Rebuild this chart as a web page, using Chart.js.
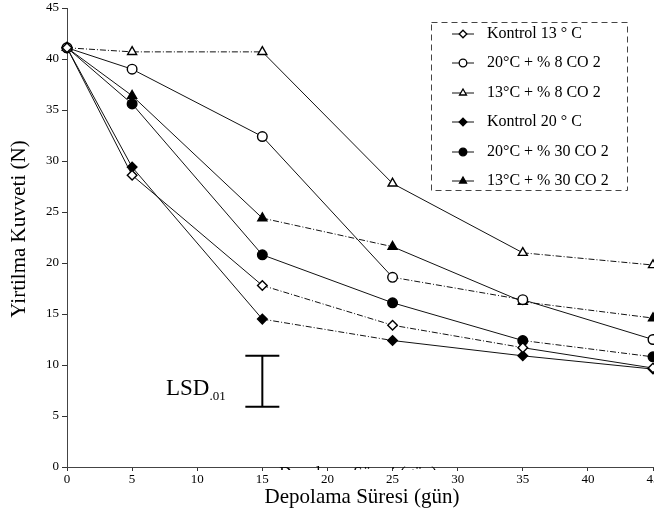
<!DOCTYPE html>
<html><head><meta charset="utf-8">
<script src="https://cdn.jsdelivr.net/npm/chart.js@4"></script>
<style>html,body{margin:0;padding:0;background:#fff}canvas{display:block}</style>
</head><body>
<canvas id="c" width="654" height="530"></canvas>
<script>
const days = [0, 5, 15, 25, 35, 45];
const seriesNames = ['Kontrol 13 ° C', '20°C + % 8 CO 2', '13°C + % 8 CO 2', 'Kontrol 20 ° C', '20°C + % 30 CO 2', '13°C + % 30 CO 2'];
const kontrol13 = [41.1, 28.6, 17.8, 13.9, 11.7, 9.7];
const c20co8 = [41.1, 39.0, 32.4, 18.6, 16.4, 12.5];
const c13co8 = [41.1, 40.7, 40.7, 27.8, 21.0, 19.8];
const kontrol20 = [41.1, 29.4, 14.5, 12.4, 10.9, 9.6];
const c20co30 = [41.1, 35.6, 20.8, 16.1, 12.4, 10.8];
const c13co30 = [41.1, 36.4, 24.4, 21.6, 16.2, 14.6];
const yTicks = [0, 5, 10, 15, 20, 25, 30, 35, 40, 45];
const xTicks = [0, 5, 10, 15, 20, 25, 30, 35, 40, 45];
const lsdX = 15, lsdLow = 5.9, lsdHigh = 10.9;

// styles (kept separate from data)
const markerStyles = ['rectRot', 'circle', 'triangle', 'rectRot', 'circle', 'triangle'];
const markerFilled = [false, false, false, true, true, true];
const segDash = [
  [0,0,1,1,0],
  [0,0,0,1,0],
  [1,1,0,0,1],
  [0,0,1,0,0],
  [0,0,0,0,1],
  [0,0,1,0,1]
];
const allSeries = [kontrol13, c20co8, c13co8, kontrol20, c20co30, c13co30];
const SERIF = "'Liberation Serif', 'DejaVu Serif', serif";
const DASHDOT = [6, 2, 1, 2];

const datasets = allSeries.map((vals, i) => ({
  label: seriesNames[i],
  data: days.map((d, j) => ({x: d, y: vals[j]})),
  borderColor: '#111',
  borderWidth: 1,
  pointStyle: markerStyles[i],
  pointRadius: markerStyles[i] === 'triangle' ? 5.2 : 4.8,
  pointBorderWidth: 1.4,
  pointBackgroundColor: markerFilled[i] ? '#000' : '#fff',
  pointBorderColor: '#000',
  segment: { borderDash: ctx => segDash[i][ctx.p0DataIndex] ? DASHDOT : [] },
  tension: 0,
  clip: false
}));

const overlay = {
  id: 'overlay',
  afterDatasetsDraw(chart) {
    const c = chart.ctx, xs = chart.scales.x, ys = chart.scales.y;
    c.save();
    // LSD bar
    const bx = xs.getPixelForValue(lsdX);
    const yt = ys.getPixelForValue(lsdHigh), yb = ys.getPixelForValue(lsdLow);
    c.strokeStyle = '#000'; c.lineWidth = 2;
    c.beginPath();
    c.moveTo(bx, yt); c.lineTo(bx, yb);
    c.moveTo(bx - 17, yt); c.lineTo(bx + 17, yt);
    c.moveTo(bx - 17, yb); c.lineTo(bx + 17, yb);
    c.stroke();
    c.fillStyle = '#000';
    c.textBaseline = 'alphabetic'; c.textAlign = 'left';
    c.font = '23px ' + SERIF;
    c.fillText('LSD', 166, 395);
    const w = c.measureText('LSD').width;
    c.font = '13px ' + SERIF;
    c.fillText('.01', 166 + w, 400);

    // Legend
    c.lineWidth = 1; c.strokeStyle = '#444';
    c.setLineDash([6, 4]);
    c.strokeRect(431.5, 22.5, 196, 168);
    c.setLineDash([]);
    const rows = [34, 63, 93, 122, 152, 181];
    chart.data.datasets.forEach((ds, i) => {
      const y = rows[i];
      c.strokeStyle = '#111'; c.lineWidth = 1;
      c.beginPath(); c.moveTo(452, y); c.lineTo(474, y); c.stroke();
      c.lineWidth = 1.3; c.strokeStyle = '#000';
      c.fillStyle = markerFilled[i] ? '#000' : '#fff';
      Chart.helpers.drawPoint(c, {pointStyle: markerStyles[i], radius: markerStyles[i] === 'triangle' ? 4 : 3.8, borderWidth: 1.3, rotation: 0}, 463, y);
      c.fillStyle = '#000';
      c.font = '16px ' + SERIF;
      c.textBaseline = 'middle';
      c.fillText(ds.label, 487, y);
    });

    // Axis titles
    c.textAlign = 'center'; c.textBaseline = 'middle';
    c.save();
    c.translate(19, 229);
    c.rotate(-Math.PI / 2);
    c.font = '21px ' + SERIF;
    c.fillText('Yirtilma Kuvveti (N)', 0, 0);
    c.restore();
    // ghost title (scan artifact), clipped
    c.save();
    c.beginPath(); c.rect(0, 440, 654, 30); c.clip();
    c.font = '17px ' + SERIF;
    c.fillText('Depolama Süresi (gün)', 358, 474);
    c.restore();
    c.font = '21px ' + SERIF;
    c.fillText('Depolama Süresi (gün)', 362, 497);
    c.restore();
  }
};

new Chart(document.getElementById('c'), {
  type: 'line',
  data: { datasets },
  options: {
    responsive: false,
    animation: false,
    layout: { autoPadding: false, padding: { top: 8, right: 1, left: 0, bottom: 0 } },
    plugins: { legend: { display: false }, tooltip: { enabled: false } },
    scales: {
      x: {
        type: 'linear', min: 0, max: 45,
        afterBuildTicks: s => { s.ticks = xTicks.map(v => ({value: v})); },
        afterFit: s => { s.height = 63; s.paddingLeft = 0; s.paddingRight = 0; },
        ticks: { color: '#000', font: { family: SERIF, size: 13 }, padding: 1, maxRotation: 0 },
        grid: { drawOnChartArea: false, tickLength: 4, color: '#333' },
        border: { color: '#444', width: 1, dash: DASHDOT }
      },
      y: {
        min: 0, max: 45,
        afterBuildTicks: s => { s.ticks = yTicks.map(v => ({value: v})); },
        afterFit: s => { s.width = 67; s.paddingTop = 0; s.paddingBottom = 0; },
        ticks: { color: '#000', font: { family: SERIF, size: 13 }, padding: 3 },
        grid: { drawOnChartArea: false, tickLength: 5, color: '#333' },
        border: { color: '#444', width: 1, dash: DASHDOT }
      }
    }
  },
  plugins: [overlay]
});
</script>
</body></html>
